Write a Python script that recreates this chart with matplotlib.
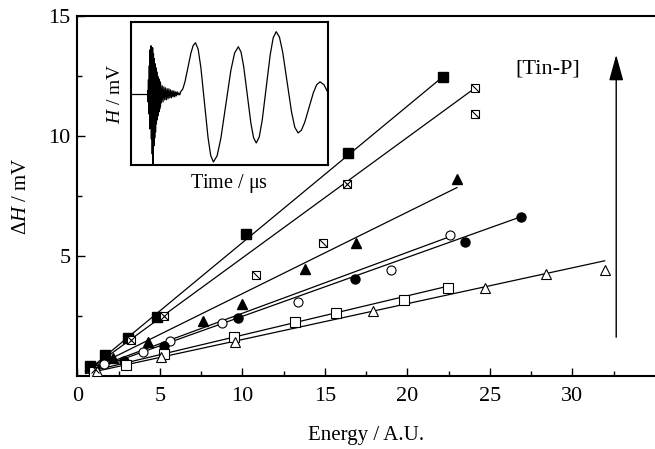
import numpy as np
import matplotlib
matplotlib.use('Agg')
import matplotlib.pyplot as plt
from matplotlib.path import Path

plt.rcParams['font.family'] = ['Liberation Serif', 'DejaVu Serif']
plt.rcParams['mathtext.fontset'] = 'custom'
plt.rcParams['mathtext.rm'] = 'Liberation Serif'
plt.rcParams['mathtext.it'] = 'Liberation Serif:italic'

# --- main data (energy in A.U., delta H in mV) ---
sq_fill_x = [0.8, 1.67, 3.1, 4.8, 10.2, 16.4, 22.15]
sq_fill_y = [0.4, 0.88, 1.58, 2.45, 5.9, 9.3, 12.47]

sq_cross_x = [1.07, 3.24, 5.23, 16.36]
sq_cross_y = [0.3, 1.5, 2.5, 8.0]
sq_diag_x = [10.8, 14.9, 24.1, 24.1]
sq_diag_y = [4.2, 5.53, 12.0, 10.9]

tri_fill_x = [1.0, 2.15, 4.3, 7.6, 10.0, 13.8, 16.9, 23.0]
tri_fill_y = [0.3, 0.75, 1.43, 2.3, 3.0, 4.46, 5.53, 8.2]

circ_open_x = [1.6, 4.0, 5.6, 8.77, 13.4, 19.0, 22.55]
circ_open_y = [0.5, 1.0, 1.47, 2.22, 3.07, 4.42, 5.87]

circ_fill_x = [0.9, 2.8, 5.23, 9.76, 16.8, 23.5, 26.9]
circ_fill_y = [0.25, 0.64, 1.26, 2.43, 4.03, 5.6, 6.64]

sq_open_x = [1.0, 2.98, 5.23, 9.5, 13.2, 15.7, 19.8, 22.45]
sq_open_y = [0.15, 0.47, 0.92, 1.64, 2.26, 2.64, 3.17, 3.68]

tri_open_x = [1.2, 5.1, 9.58, 17.9, 24.7, 28.4, 31.95]
tri_open_y = [0.2, 0.8, 1.43, 2.72, 3.68, 4.25, 4.42]

# fitted lines: (x start, y start, x end, y end)
fit_lines = [
    (0.5, 0.15, 22.15, 12.47),
    (0.6, 0.2, 24.1, 12.0),
    (0.5, 0.2, 23.0, 7.85),
    (0.5, 0.2, 22.55, 5.8),
    (0.5, 0.15, 26.9, 6.64),
    (0.5, 0.15, 22.5, 3.75),
    (0.5, 0.1, 31.95, 4.8),
]

# --- inset waveform (time and H in arbitrary units) ---
flat_t = [0, 17]
flat_h = [0, 0]
burst_h = [3, -8, 14, -20, 28, -35, 44, -30, 48, -45, 38, -60, 46, -71, 40, -52,
           35, -44, 30, -38, 26, -30, 22, -26, 18, -22, 16, -18, 14, -15, 12, -12]
decay_h = [10, -9, 8, -8, 7, -6, 6, -6, 5, -5, 5, -4, 4, -4, 3, -3, 3, -3, 2, -2,
           2, -1, 1, -1, 1]
wave_t = [50, 52.25, 54.5, 57.5, 60.5, 62.75, 65,
          67.7, 70.4, 74, 77.6, 80.3, 83,
          86.75, 90.5, 95.5, 100.5, 104.25, 108,
          110.7, 113.4, 117, 120.6, 123.3, 126,
          129, 132, 136, 140, 143, 146,
          149.3, 152.6, 157, 161.4, 164.7, 168,
          171.3, 174.6, 179, 183.4, 186.7, 190, 194, 198]
wave_h = [2, 4.7, 12.1, 26.5, 40.9, 48.3, 51,
          44.5, 26.5, -8.5, -43.5, -61.5, -68,
          -61.7, -44.3, -10.5, 23.3, 40.7, 47,
          41.8, 27.2, -1, -29.2, -43.8, -49,
          -43, -26.1, 6.5, 39.1, 56, 62,
          56.5, 41.2, 11.5, -18.2, -33.5, -39,
          -36.2, -28.5, -13.5, 1.5, 9.2, 12, 9, 1]

fig = plt.figure(figsize=(6.55, 4.49), dpi=100)
ax = fig.add_axes([0.118, 0.1626, 0.882, 0.8018])

for x0, y0, x1, y1 in fit_lines:
    ax.plot([x0, x1], [y0, y1], color='black', lw=0.9, zorder=2)

diag = Path([(-1, 1), (1, -1)], [Path.MOVETO, Path.LINETO])
ms = 6.5
ax.plot(sq_fill_x, sq_fill_y, 's', ms=ms, mfc='black', mec='black', ls='none', zorder=3)
ax.plot(sq_cross_x, sq_cross_y, 's', ms=ms - 0.3, mfc='white', mec='black', mew=0.8, ls='none', zorder=3)
ax.plot(sq_cross_x, sq_cross_y, 'x', ms=ms - 1.3, mec='black', mew=0.8, ls='none', zorder=4)
ax.plot(sq_diag_x, sq_diag_y, 's', ms=ms - 0.3, mfc='white', mec='black', mew=0.8, ls='none', zorder=3)
ax.plot(sq_diag_x, sq_diag_y, marker=diag, ms=ms - 0.8, mec='black', mew=0.8, ls='none', zorder=4)
ax.plot(tri_fill_x, tri_fill_y, '^', ms=ms + 0.5, mfc='black', mec='black', ls='none', zorder=3)
ax.plot(circ_open_x, circ_open_y, 'o', ms=ms, mfc='white', mec='black', mew=0.8, ls='none', zorder=3)
ax.plot(circ_fill_x, circ_fill_y, 'o', ms=ms, mfc='black', mec='black', ls='none', zorder=3)
ax.plot(sq_open_x, sq_open_y, 's', ms=ms, mfc='white', mec='black', mew=0.8, ls='none', zorder=3)
ax.plot(tri_open_x, tri_open_y, '^', ms=ms + 0.5, mfc='white', mec='black', mew=0.8, ls='none', zorder=3)

ax.set_xlim(0, 35)
ax.set_ylim(0, 15)
ax.set_xticks([0, 5, 10, 15, 20, 25, 30])
ax.set_xticks(np.arange(2.5, 35, 5), minor=True)
ax.set_yticks([5, 10, 15])
ax.set_yticks([2.5, 7.5, 12.5], minor=True)
ax.tick_params(which='both', direction='in', width=1, labelsize=16, pad=8)
ax.tick_params(which='major', length=6)
ax.tick_params(which='minor', length=3.5)
ax.tick_params(axis='y', pad=5)
ax.spines['right'].set_visible(False)
for s in ['left', 'bottom', 'top']:
    ax.spines[s].set_linewidth(1.5)

ax.set_xlabel('Energy / A.U.', fontsize=15, labelpad=14)
ax.set_ylabel(r'$\Delta H$ / mV', fontsize=15, labelpad=12)

ax.text(28.5, 12.8, '[Tin-P]', fontsize=16, ha='center', va='center')
ax.annotate('', xy=(32.65, 13.5), xytext=(32.65, 1.5),
            arrowprops=dict(arrowstyle='-|>,head_length=0.8,head_width=0.22',
                            mutation_scale=20, lw=1, color='black'))

# inset
ins = fig.add_axes([0.1995, 0.6325, 0.3013, 0.3192])
ins.plot(flat_t, flat_h, color='black', lw=0.9)
ins.plot(np.linspace(17, 30, len(burst_h)), burst_h, color='black', lw=0.9)
ins.plot(np.linspace(30, 50, len(decay_h)), decay_h, color='black', lw=0.9)
ins.plot(wave_t, wave_h, color='black', lw=0.9)
ins.set_xlim(0, 198)
ins.set_ylim(-71, 72)
ins.set_xticks([])
ins.set_yticks([])
for s in ins.spines.values():
    s.set_linewidth(1.5)
ins.set_xlabel(r'Time / $\mathrm{\mu}$s', fontsize=14.5, labelpad=5)
ins.set_ylabel(r'$H$ / mV', fontsize=14, labelpad=5)

fig.savefig('out.png', dpi=100)
